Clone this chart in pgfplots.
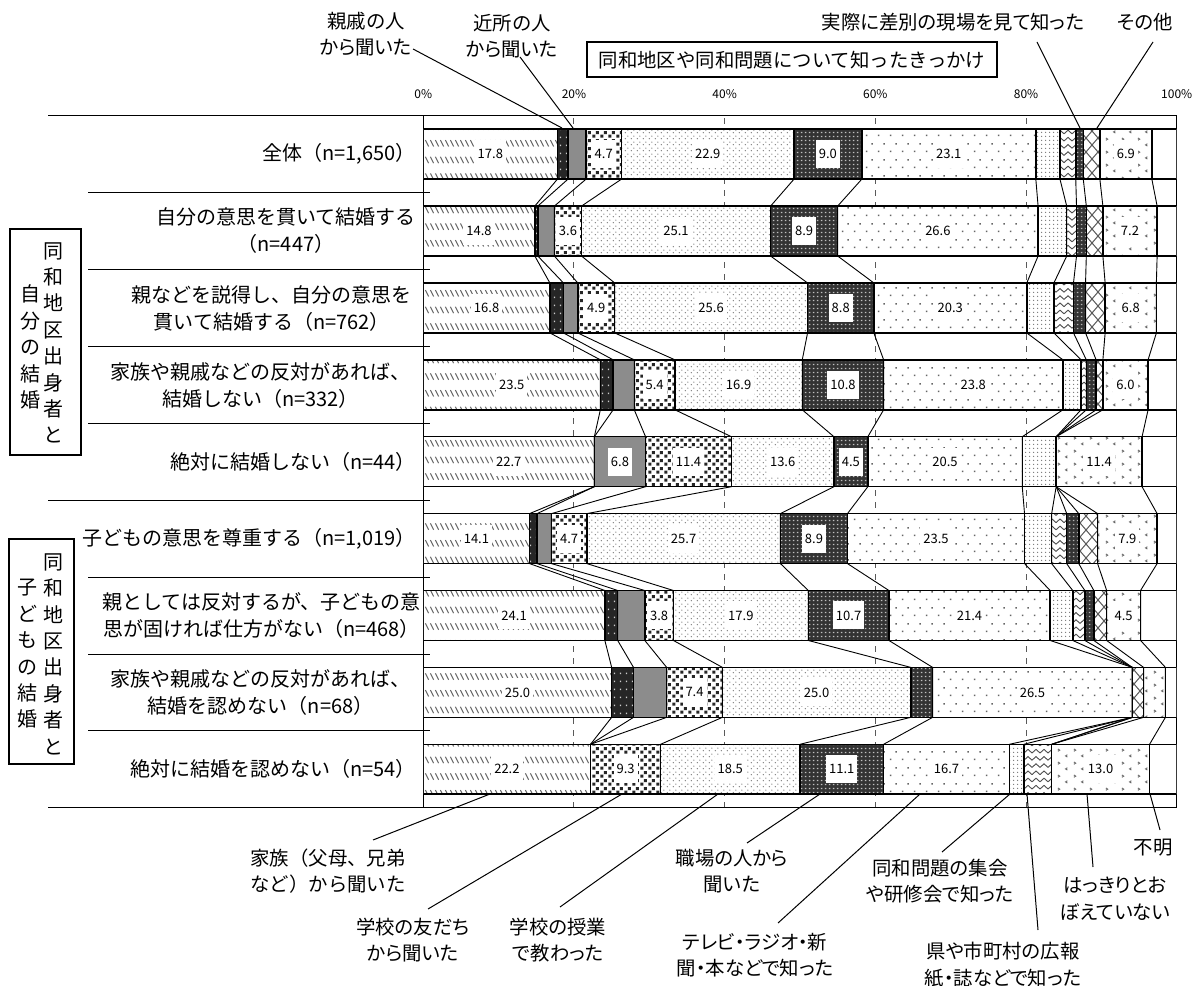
\documentclass[border=0pt]{standalone}
\usepackage{fontspec}
\setmainfont{Noto Sans CJK JP}
\usepackage{pgfplots}
\usepackage{pgfplotstable}
\pgfplotsset{compat=1.18}
\usetikzlibrary{patterns}

% fill patterns for the 13 answer categories
\pgfdeclarepatternformonly{famhatch}{\pgfqpoint{-1pt}{-1pt}}{\pgfqpoint{3.5pt}{9.4pt}}{\pgfqpoint{2.5pt}{8.333pt}}{%
  \pgfsetlinewidth{0.5pt}%
  \pgfpathmoveto{\pgfqpoint{0.2pt}{5.8pt}}\pgfpathlineto{\pgfqpoint{1.8pt}{2.6pt}}%
  \pgfusepath{stroke}}
\pgfdeclarepatternformonly{tomosq}{\pgfqpoint{0pt}{0pt}}{\pgfqpoint{4pt}{4pt}}{\pgfqpoint{4pt}{4pt}}{%
  \pgfpathrectangle{\pgfqpoint{0.2pt}{0.2pt}}{\pgfqpoint{1.7pt}{1.7pt}}%
  \pgfpathrectangle{\pgfqpoint{2.2pt}{2.2pt}}{\pgfqpoint{1.7pt}{1.7pt}}%
  \pgfusepath{fill}}
\pgfdeclarepatternformonly{jugdots}{\pgfqpoint{0pt}{0pt}}{\pgfqpoint{3pt}{3pt}}{\pgfqpoint{3pt}{3pt}}{%
  \pgfpathcircle{\pgfqpoint{0.75pt}{0.75pt}}{0.42pt}%
  \pgfpathcircle{\pgfqpoint{2.25pt}{2.25pt}}{0.42pt}%
  \pgfusepath{fill}}
\pgfdeclarepatternformonly{tvdots}{\pgfqpoint{0pt}{0pt}}{\pgfqpoint{6pt}{8pt}}{\pgfqpoint{6pt}{8pt}}{%
  \pgfpathrectangle{\pgfqpoint{1pt}{1pt}}{\pgfqpoint{0.8pt}{0.8pt}}%
  \pgfpathrectangle{\pgfqpoint{4pt}{5pt}}{\pgfqpoint{0.8pt}{0.8pt}}%
  \pgfusepath{fill}}
\pgfdeclarepatternformonly{shudots}{\pgfqpoint{0pt}{0pt}}{\pgfqpoint{1.8pt}{1.8pt}}{\pgfqpoint{1.8pt}{1.8pt}}{%
  \pgfpathcircle{\pgfqpoint{0.9pt}{0.9pt}}{0.4pt}%
  \pgfusepath{fill}}
\pgfdeclarepatternformonly{wave}{\pgfqpoint{-0.5pt}{0pt}}{\pgfqpoint{4.5pt}{3.6pt}}{\pgfqpoint{4pt}{3.6pt}}{%
  \pgfsetlinewidth{0.45pt}%
  \pgfpathmoveto{\pgfqpoint{0pt}{0.8pt}}%
  \pgfpathcurveto{\pgfqpoint{1pt}{0.8pt}}{\pgfqpoint{1pt}{2.6pt}}{\pgfqpoint{2pt}{2.6pt}}%
  \pgfpathcurveto{\pgfqpoint{3pt}{2.6pt}}{\pgfqpoint{3pt}{0.8pt}}{\pgfqpoint{4pt}{0.8pt}}%
  \pgfusepath{stroke}}
\pgfdeclarepatternformonly{diamond}{\pgfqpoint{-0.5pt}{-0.5pt}}{\pgfqpoint{6.5pt}{7.5pt}}{\pgfqpoint{6pt}{7pt}}{%
  \pgfsetlinewidth{0.5pt}%
  \pgfpathmoveto{\pgfqpoint{0pt}{0pt}}\pgfpathlineto{\pgfqpoint{6pt}{7pt}}%
  \pgfpathmoveto{\pgfqpoint{0pt}{7pt}}\pgfpathlineto{\pgfqpoint{6pt}{0pt}}%
  \pgfusepath{stroke}}
\pgfdeclarepatternformonly{chev}{\pgfqpoint{0pt}{0pt}}{\pgfqpoint{8pt}{6.25pt}}{\pgfqpoint{8pt}{6.25pt}}{%
  \pgfsetlinewidth{0.45pt}%
  \pgfpathmoveto{\pgfqpoint{1pt}{5.2pt}}\pgfpathlineto{\pgfqpoint{2pt}{4.6pt}}\pgfpathlineto{\pgfqpoint{1pt}{4pt}}%
  \pgfpathmoveto{\pgfqpoint{6pt}{2.2pt}}\pgfpathlineto{\pgfqpoint{5pt}{1.6pt}}\pgfpathlineto{\pgfqpoint{6pt}{1pt}}%
  \pgfusepath{stroke}}
% small light holes for the dark categories
\pgfdeclarepatternformonly{wsparse}{\pgfqpoint{0pt}{0pt}}{\pgfqpoint{3pt}{4.2pt}}{\pgfqpoint{3pt}{4.2pt}}{%
  \pgfpathrectangle{\pgfqpoint{1.1pt}{1.6pt}}{\pgfqpoint{0.7pt}{0.7pt}}%
  \pgfusepath{fill}}
\pgfdeclarepatternformonly{wgrid}{\pgfqpoint{0pt}{0pt}}{\pgfqpoint{2pt}{2pt}}{\pgfqpoint{2pt}{2pt}}{%
  \pgfpathrectangle{\pgfqpoint{0.6pt}{0.6pt}}{\pgfqpoint{0.8pt}{0.8pt}}%
  \pgfusepath{fill}}

% pos: 9 = top row (全体) ... 1 = bottom row
\pgfplotstableread{
pos fam shin kin tomo jug shok tv shu koho gen sono hak fum
9 17.8 1.4 2.4 4.7 22.9 9.0 23.1 3.2 2.1 1.0 2.2 6.9 3.3
8 14.8 0.4 2.2 3.6 25.1 8.9 26.6 3.8 1.3 1.3 2.2 7.2 2.6
7 16.8 1.8 1.9 4.9 25.6 8.8 20.3 3.6 2.6 1.6 2.6 6.8 2.7
6 23.5 1.7 2.8 5.4 16.9 10.8 23.8 2.4 0.7 1.3 0.9 6.0 3.8
5 22.7 0.0 6.8 11.4 13.6 4.5 20.5 4.5 0.0 0.0 0.0 11.4 4.6
4 14.1 1.0 1.9 4.7 25.7 8.9 23.5 3.6 2.0 1.6 2.5 7.9 2.6
3 24.1 1.7 3.6 3.8 17.9 10.7 21.4 3.0 1.6 1.2 1.7 4.5 4.8
2 25.0 2.9 4.4 7.4 25.0 2.9 26.5 0.0 0.0 0.0 1.5 2.9 1.5
1 22.2 0.0 0.0 9.3 18.5 11.1 16.7 1.9 3.7 0.0 0.0 13.0 3.6
}\datatable

% running sums: connector polylines L1..L12 and value label positions
\def\hb{0.325}
\foreach \k in {1,...,12}{\expandafter\gdef\csname L\k\endcsname{}}
\gdef\labcoords{}
\foreach \ri in {0,...,8}{%
  \gdef\cum{0}%
  \pgfmathsetmacro\yc{9-\ri}%
  \pgfmathsetmacro\ytop{9-\ri+\hb}%
  \pgfmathsetmacro\ybot{9-\ri-\hb}%
  \foreach \col/\thr [count=\k] in {fam/0,shin/99,kin/5,tomo/0,jug/0,shok/3.5,tv/0,shu/99,koho/99,gen/99,sono/99,hak/3.5}{%
    \pgfplotstablegetelem{\ri}{\col}\of\datatable
    \let\val\pgfplotsretval
    \pgfmathsetmacro\midx{\cum+\val/2}%
    \pgfmathsetmacro\newcum{\cum+\val}%
    \xdef\cum{\newcum}%
    \ifnum\ri>0 \expandafter\xdef\csname L\k\endcsname{\csname L\k\endcsname (\cum,\ytop)}\fi
    \ifnum\ri<8 \expandafter\xdef\csname L\k\endcsname{\csname L\k\endcsname (\cum,\ybot)}\fi
    \pgfmathparse{\val>=\thr ? 1 : 0}%
    \ifdim\pgfmathresult pt>0.5pt \xdef\labcoords{\labcoords (\midx,\yc) [\val]}\fi
  }%
}

\pgfplotsset{
  barbase/.style={draw=black, line width=0.75pt},
  sfam/.style={barbase, preaction={fill=white}, pattern=famhatch, pattern color=black!60},
  sshin/.style={barbase, fill=black!85, postaction={pattern=wsparse, pattern color=white!80!black}},
  skin/.style={barbase, fill=black!45},
  stomo/.style={barbase, preaction={fill=white}, pattern=tomosq, pattern color=black!85},
  sjug/.style={barbase, preaction={fill=white}, pattern=jugdots, pattern color=black!50},
  sshok/.style={barbase, fill=black!80, postaction={pattern=wgrid, pattern color=white!75!black}},
  stv/.style={barbase, preaction={fill=white}, pattern=tvdots, pattern color=black!60},
  sshu/.style={barbase, preaction={fill=white}, pattern=shudots, pattern color=black!55},
  skoho/.style={barbase, preaction={fill=white}, pattern=wave, pattern color=black!70},
  sgen/.style={barbase, fill=black!80, postaction={pattern=wgrid, pattern color=white!70!black}},
  ssono/.style={barbase, preaction={fill=white}, pattern=diamond, pattern color=black!65},
  shak/.style={barbase, preaction={fill=white}, pattern=chev, pattern color=black!60},
  sfum/.style={barbase, fill=white},
  conn/.style={black, line width=0.45pt, mark=none},
  vallab/.style={draw=none, mark=none, nodes near coords, point meta=explicit symbolic,
    every node near coord/.style={anchor=center, fill=white, inner xsep=1.5pt, inner ysep=1pt,
      minimum height=14pt, text=black, font=\fontsize{6.5}{7}\selectfont}},
  frame/.style={at={(211.65pt,88.65pt)}, anchor=south west, scale only axis,
    width=376.7pt, height=346pt, xmin=0, xmax=100, ymin=0.5, ymax=9.5},
}
\newcommand\annfont{\fontsize{9.7}{13.3}\selectfont\addfontfeatures{RawFeature=+palt}}
\newcommand\rowfont{\fontsize{10}{13.5}\selectfont}

\begin{document}
\begin{tikzpicture}
\useasboundingbox (0,0) rectangle (598.5pt,492.5pt);
\begin{axis}[frame,
    xbar stacked, bar width=0.65,
    axis line style={line width=0.5pt},
    ytick=\empty,
    xtick={0,20,40,60,80,100},
    xticklabels={0\%,20\%,40\%,60\%,80\%,100\%},
    xticklabel pos=upper,
    major tick length=0pt,
    xticklabel style={font=\fontsize{6}{7}\selectfont, yshift=5pt},
    xmajorgrids,
    grid style={black!65, line width=0.5pt, dash pattern=on 3pt off 3pt},
]
\addplot[sfam]  table[x=fam,  y=pos]{\datatable};
\addplot[sshin] table[x=shin, y=pos]{\datatable};
\addplot[skin]  table[x=kin,  y=pos]{\datatable};
\addplot[stomo] table[x=tomo, y=pos]{\datatable};
\addplot[sjug]  table[x=jug,  y=pos]{\datatable};
\addplot[sshok] table[x=shok, y=pos]{\datatable};
\addplot[stv]   table[x=tv,   y=pos]{\datatable};
\addplot[sshu]  table[x=shu,  y=pos]{\datatable};
\addplot[skoho] table[x=koho, y=pos]{\datatable};
\addplot[sgen]  table[x=gen,  y=pos]{\datatable};
\addplot[ssono] table[x=sono, y=pos]{\datatable};
\addplot[shak]  table[x=hak,  y=pos]{\datatable};
\addplot[sfum]  table[x=fum,  y=pos]{\datatable};
\end{axis}
\begin{axis}[frame, hide axis, clip=false]
\pgfplotsinvokeforeach{1,...,12}{%
  \edef\tmp{\noexpand\addplot[conn] coordinates {\csname L#1\endcsname};}\tmp
}
\edef\tmp{\noexpand\addplot[vallab] coordinates {\labcoords};}\tmp
\end{axis}

\begin{scope}[x=0.5pt, y=-0.5pt, yshift=492.5pt]
% row separators on the left
\draw[line width=0.5pt] (48,115.7) -- (430,115.7) (48,500.2) -- (430,500.2) (48,807.7) -- (430,807.7);
\foreach \yy in {192.6,269.5,346.4,423.3,577.1,654.0,730.8}
  \draw[line width=0.5pt] (88,\yy) -- (430,\yy);
% group boxes
\draw[line width=0.6pt] (10,229) rectangle (81,455);
\node[font=\fontsize{10}{13.2}\selectfont, align=center, inner sep=0] at (53,343) {同\\和\\地\\区\\出\\身\\者\\と};
\node[font=\fontsize{10}{13.2}\selectfont, align=center, inner sep=0] at (30,347) {自\\分\\の\\結\\婚};
\draw[line width=0.6pt] (9,539) rectangle (74,764);
\node[font=\fontsize{10}{13.2}\selectfont, align=center, inner sep=0] at (53,654) {同\\和\\地\\区\\出\\身\\者\\と};
\node[font=\fontsize{10}{13.2}\selectfont, align=center, inner sep=0] at (28,654) {子\\ど\\も\\の\\結\\婚};
% row labels
\begin{scope}[every node/.style={anchor=east, align=center, font=\rowfont, inner sep=0}]
\node at (416,154.1) {全体（n=1,650）};
\node at (416,231.0) {自分の意思を貫いて結婚する\\（n=447）};
\node at (412,309.0) {親などを説得し、自分の意思を\\貫いて結婚する（n=762）};
\node at (411,385.5) {家族や親戚などの反対があれば、\\結婚しない（n=332）};
\node at (416,461.7) {絶対に結婚しない（n=44）};
\node at (416,538.6) {子どもの意思を尊重する（n=1,019）};
\node at (421,615.4) {親としては反対するが、子どもの意\\思が固ければ仕方がない（n=468）};
\node at (411,692.3) {家族や親戚などの反対があれば、\\結婚を認めない（n=68）};
\node at (416,769.2) {絶対に結婚を認めない（n=54）};
\end{scope}
% title
\draw[line width=0.6pt] (587,42) rectangle (997,77);
\node[font=\fontsize{9.7}{13.3}\selectfont] at (792,60) {同和地区や同和問題について知ったきっかけ};
% category call-outs
\begin{scope}[every node/.style={align=center, font=\annfont, inner sep=0}, line width=0.5pt]
\node at (366,34) {親戚の人\\から聞いた};
\draw (413,49) -- (562,128);
\node at (512,36) {近所の人\\から聞いた};
\draw (520,57) -- (573,128);
\node at (953,22) {実際に差別の現場を見て知った};
\draw (1037,42) -- (1080,128);
\node at (1145,22) {その他};
\draw (1153,42) -- (1097,128);
\node[font=\fontsize{9.7}{13.3}\selectfont] at (328,871) {家族（父母、兄弟\\など）から聞いた};
\draw (490,794) -- (373,840);
\node at (413,940) {学校の友だち\\から聞いた};
\draw (622,794) -- (428,909);
\node at (558,940) {学校の授業\\で教わった};
\draw (718,794) -- (560,907);
\node at (732,871) {職場の人から\\聞いた};
\draw (820,794) -- (747,843);
\node at (755,955) {テレビ・ラジオ・新\\聞・本などで知った};
\draw (920,794) -- (778,923);
\node at (940,881) {同和問題の集会\\や研修会で知った};
\draw (1010,794) -- (942,852);
\node at (1003,965) {県や市町村の広報\\紙・誌などで知った};
\draw (1027,794) -- (1038,930);
\node at (1115,899) {はっきりとお\\ぼえていない};
\draw (1087,794) -- (1093,867);
\node at (1153,848) {不明};
\draw (1150,794) -- (1160,830);
\end{scope}
\end{scope}
\end{tikzpicture}
\end{document}
